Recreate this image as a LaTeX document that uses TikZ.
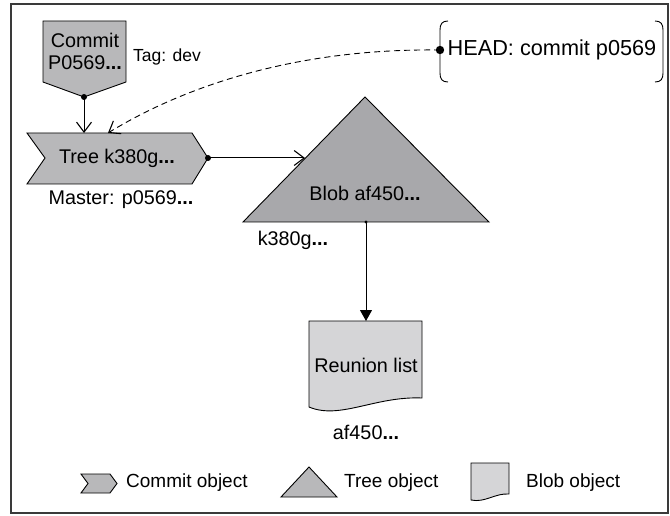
\documentclass[tikz,border=0pt]{standalone}
\usepackage{fontspec}
\setmainfont{Liberation Sans}
\usetikzlibrary{arrows.meta}
\definecolor{commitgray}{HTML}{B8B8BA}
\definecolor{treegray}{HTML}{A8A8AB}
\definecolor{docgray}{HTML}{D5D5D7}
\definecolor{framegray}{HTML}{3A3A3A}
\newcommand\mydots{\textbf{...}}
\begin{document}
\begin{tikzpicture}[x=1pt,y=-1pt,
  shapeline/.style={draw=black,line width=0.9pt,line join=miter},
  lbl/.style={font=\fontsize{19.8}{22}\selectfont,inner sep=0pt,align=center},
  headlbl/.style={font=\fontsize{21.7}{24}\selectfont,inner sep=0pt},
  taglbl/.style={font=\fontsize{17.5}{20}\selectfont,inner sep=0pt},
  leglbl/.style={font=\fontsize{19}{22}\selectfont,inner sep=0pt,anchor=west},
  conn/.style={line width=1pt},
  barb/.style={-{Straight Barb[length=10pt,width=15pt,line width=1.1pt]}},
  dashconn/.style={line width=0.9pt,dash pattern=on 6pt off 4pt}
]
\useasboundingbox (0,0) rectangle (670,516);
\draw[line width=1.4pt,draw=framegray] (11,4) rectangle (668,513);

% commit pentagon
\filldraw[shapeline,fill=commitgray] (43,21) -- (126,21) -- (126,82) -- (84,97) -- (43,82) -- cycle;
\node[lbl] (commit) at (85,51) {Commit\\P0569\mydots};
\node[taglbl] (tag) at (167,57) {Tag: dev};
\coordinate (commitTip) at (84,97);

% tree chevron (commit object)
\filldraw[shapeline,fill=commitgray] (27,133) -- (192,133) -- (208,158) -- (192,184) -- (27,184) -- (45,158) -- cycle;
\node[lbl] (tree) at (117,158) {Tree k380g\mydots};
\node[lbl] (master) at (121,200) {Master: p0569\mydots};
\coordinate (treeTop) at (84,133);
\coordinate (treeTopR) at (108,133);
\coordinate (treeRight) at (208,158);

% triangle (tree object)
\filldraw[shapeline,fill=treegray] (365,97) -- (489,222) -- (243,222) -- cycle;
\node[lbl] (blob) at (365,193) {Blob af450\mydots};
\node[lbl] (k380) at (293,240) {k380g\mydots};
\coordinate (triLeft) at (305,158);
\coordinate (triBase) at (366,222);

% document (blob object)
\filldraw[shapeline,fill=docgray] (309,321) -- (422,321) -- (422,398)
  .. controls (375,396) and (340,420) .. (309,407) -- cycle;
\node[lbl] (reunion) at (366,365) {Reunion list};
\node[lbl] (af) at (366,432) {af450\mydots};
\coordinate (docTop) at (366,321);

% HEAD
\draw[line width=0.9pt] (448,21) .. controls (442,21) and (440,24) .. (440,30) -- (440,73)
  .. controls (440,79) and (442,82) .. (448,82);
\draw[line width=0.9pt] (655,21) .. controls (661,21) and (663,24) .. (663,30) -- (663,73)
  .. controls (663,79) and (661,82) .. (655,82);
\node[headlbl] (head) at (552,50) {HEAD: commit p0569};
\coordinate (headDot) at (440,50);

% connectors
\draw[conn,barb] (commitTip) -- (treeTop);
\fill (commitTip) circle (3);
\draw[conn,barb] (treeRight) -- (triLeft);
\fill (treeRight) circle (3);
\draw[conn,-{Triangle[length=11pt,width=12pt]}] (triBase) -- (docTop);
\fill (triBase) circle (1.6);
\draw[dashconn,-{Straight Barb[length=10pt,width=15pt,line width=1.1pt]}]
  (headDot) .. controls (280,48) and (170,95) .. (treeTopR);
\fill (headDot) circle (4.2);

% legend
\filldraw[shapeline,fill=commitgray] (81,474) -- (110,474) -- (117,483.5) -- (110,493) -- (81,493) -- (88,483.5) -- cycle;
\node[leglbl] (legcommit) at (126,483) {Commit object};
\filldraw[shapeline,fill=commitgray] (309,467) -- (337,497) -- (281,497) -- cycle;
\node[leglbl] (legtree) at (344,483) {Tree object};
\filldraw[shapeline,fill=docgray] (471,463) -- (509,463) -- (509,494)
  .. controls (495,493) and (485,503) .. (471,500) -- cycle;
\node[leglbl] (legblob) at (526,483) {Blob object};
\end{tikzpicture}
\end{document}
